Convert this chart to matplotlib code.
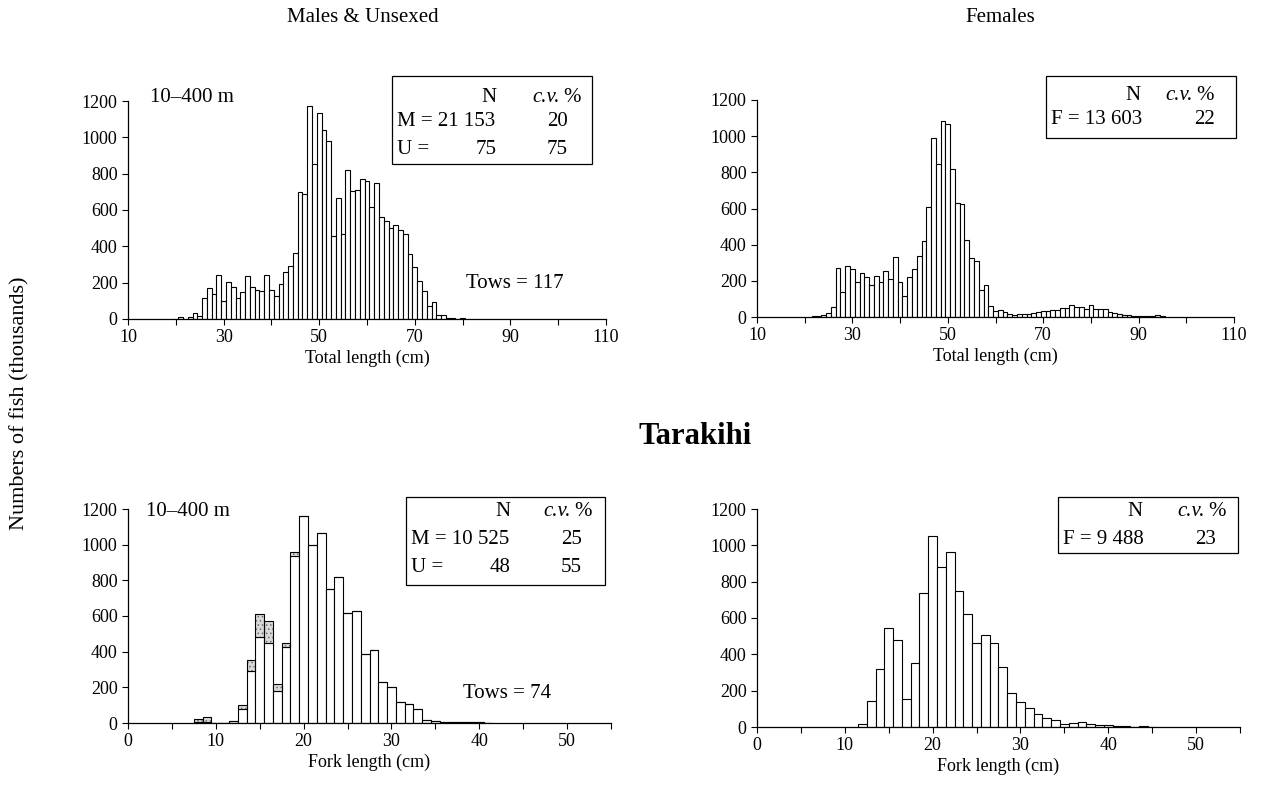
import matplotlib

matplotlib.use("Agg")
import matplotlib.pyplot as plt
import numpy as np
from matplotlib.patches import Rectangle

W, H = 1264, 800

# top species, total length (cm), 1 cm bins
tl_start = 20
males_tl = [0, 13, 0, 9, 33, 18, 114, 169, 139, 244, 99, 205, 174, 115, 150, 236, 176, 160, 156, 242,
            160, 128, 194, 257, 293, 361, 698, 687, 1173, 852, 1136, 1041, 979, 457, 665, 470, 822, 707,
            710, 768, 760, 616, 750, 561, 537, 502, 517, 491, 469, 359, 286, 209, 154, 70, 92, 24, 20, 7,
            5, 0, 7]
tr_start = 22
females_tl = [3, 6, 13, 20, 55, 269, 140, 280, 264, 192, 243, 221, 177, 229, 195, 256, 210, 330, 195,
              114, 219, 264, 339, 422, 608, 988, 848, 1082, 1067, 820, 628, 623, 426, 324, 310, 147, 177,
              62, 35, 37, 26, 15, 9, 17, 15, 15, 22, 28, 33, 33, 40, 40, 48, 48, 68, 55, 55, 45, 68, 42,
              42, 44, 29, 20, 18, 13, 9, 7, 6, 5, 5, 5, 12, 4]

# Tarakihi, fork length (cm)
bl_start = 8
males_fl = [5, 8, 2, 0, 9, 80, 290, 482, 449, 178, 424, 935, 1159, 996, 1065, 753, 817, 617, 630, 387,
            407, 228, 200, 118, 108, 79, 19, 9, 7, 7, 6, 3, 5, 2]
unsexed_fl = [17, 26, 0, 0, 0, 22, 61, 129, 125, 42, 25, 22, 0, 0, 0, 0, 0, 0, 0, 0,
              0, 0, 0, 0, 0, 0, 0, 0, 0, 0, 0, 0, 0, 0]
br_start = 12
females_fl = [15, 141, 321, 546, 481, 156, 355, 735, 1053, 878, 961, 746, 623, 461, 509, 461, 329, 189,
              138, 107, 72, 48, 40, 18, 22, 26, 15, 9, 9, 6, 4, 2, 6, 2]

y_ticks = [0, 200, 400, 600, 800, 1000, 1200]
tl_xticks = [10, 30, 50, 70, 90, 110]
fl_xticks = [0, 10, 20, 30, 40, 50]

plt.rcParams["font.family"] = ["Liberation Serif", "DejaVu Serif"]
plt.rcParams["font.size"] = 13
plt.rcParams["hatch.linewidth"] = 0.6


def fx(x):
    return x / W


def fy(y):
    return 1 - y / H


def add_panel(fig, left, top, right, bottom):
    ax = fig.add_axes([fx(left), fy(bottom), (right - left) / W, (bottom - top) / H])
    for side in ["top", "right"]:
        ax.spines[side].set_visible(False)
    ax.spines["left"].set_linewidth(0.9)
    ax.spines["bottom"].set_linewidth(0.9)
    ax.set_ylim(0, 1200)
    ax.set_yticks(y_ticks)
    ax.tick_params(direction="out", length=4, width=0.8, labelsize=13)
    return ax


def set_xticks(ax, lo, hi, step, labelled):
    ticks = np.arange(lo, hi + step, step)
    ax.set_xlim(lo, hi)
    ax.set_xticks(ticks)
    ax.set_xticklabels([str(t) if t in labelled else "" for t in ticks])


def info_box(fig, left, top, right, bottom, n_right, cv_right, cv_head, rows, header_y, row_ys):
    fig.patches.append(Rectangle((fx(left), fy(bottom)), (right - left) / W, (bottom - top) / H,
                                 transform=fig.transFigure, fill=False, lw=0.9, ec="black"))
    fig.text(fx(n_right), fy(header_y), "N", ha="right", va="center", fontsize=15)
    fig.text(fx(cv_head), fy(header_y), "c.v.", ha="right", va="center", fontsize=15, style="italic")
    fig.text(fx(cv_head + 3), fy(header_y), "%", ha="left", va="center", fontsize=15)
    for (label, n, cv), y in zip(rows, row_ys):
        fig.text(fx(left + 5), fy(y), label, ha="left", va="center", fontsize=15)
        if n:
            fig.text(fx(n_right), fy(y), n, ha="right", va="center", fontsize=15)
        fig.text(fx(cv_right), fy(y), cv, ha="right", va="center", fontsize=15)


fig = plt.figure(figsize=(W / 100, H / 100), dpi=100)
bar_style = dict(width=1.0, facecolor="white", edgecolor="black", linewidth=0.8)

# top left: males & unsexed, total length
ax = add_panel(fig, 128, 101, 606, 319)
x = np.arange(tl_start, tl_start + len(males_tl))
ax.bar(x, males_tl, **bar_style)
set_xticks(ax, 10, 110, 10, tl_xticks)
ax.set_xlabel("Total length (cm)", fontsize=13, labelpad=2)

# top right: females, total length
ax = add_panel(fig, 757, 100, 1234, 317)
x = np.arange(tr_start, tr_start + len(females_tl))
ax.bar(x, females_tl, **bar_style)
set_xticks(ax, 10, 110, 10, tl_xticks)
ax.set_xlabel("Total length (cm)", fontsize=13, labelpad=2)

# bottom left: tarakihi males & unsexed, fork length
ax = add_panel(fig, 128, 509, 611, 723)
x = np.arange(bl_start, bl_start + len(males_fl))
ax.bar(x, males_fl, **bar_style)
# unsexed: grey stipple, then black outline on top
ax.bar(x, unsexed_fl, bottom=males_fl, width=1.0, facecolor="#d8d8d8", edgecolor="#707070",
       linewidth=0, hatch="....")
ax.bar(x, unsexed_fl, bottom=males_fl, width=1.0, fill=False, edgecolor="black", linewidth=0.8)
set_xticks(ax, 0, 55, 5, fl_xticks)
ax.set_xlabel("Fork length (cm)", fontsize=13, labelpad=2)

# bottom right: tarakihi females, fork length
ax = add_panel(fig, 757, 509, 1240, 727)
x = np.arange(br_start, br_start + len(females_fl))
ax.bar(x, females_fl, **bar_style)
set_xticks(ax, 0, 55, 5, fl_xticks)
ax.set_xlabel("Fork length (cm)", fontsize=13, labelpad=2)

# N / c.v. boxes
info_box(fig, 392, 76, 592, 164, 497, 568, 560,
         [("M = 21 153", "", "20"), ("U =", "75", "75")], 97, [121, 149])
info_box(fig, 1046, 76, 1236, 138, 1140, 1215, 1193,
         [("F = 13 603", "", "22")], 96, [119])
info_box(fig, 406, 497, 605, 585, 510, 582, 571,
         [("M = 10 525", "", "25"), ("U =", "48", "55")], 512, [539, 567])
info_box(fig, 1058, 497, 1238, 553, 1143, 1216, 1205,
         [("F = 9 488", "", "23")], 512, [539])

fig.text(fx(150), fy(97), "10–400 m", ha="left", va="center", fontsize=15)
fig.text(fx(146), fy(512), "10–400 m", ha="left", va="center", fontsize=15)
fig.text(fx(466), fy(283), "Tows = 117", ha="left", va="center", fontsize=15)
fig.text(fx(463), fy(693), "Tows = 74", ha="left", va="center", fontsize=15)

fig.text(fx(363), fy(18), "Males & Unsexed", ha="center", va="center", fontsize=15)
fig.text(fx(1000), fy(18), "Females", ha="center", va="center", fontsize=15)
fig.text(fx(695), fy(437), "Tarakihi", ha="center", va="center", fontsize=22, fontweight="bold")
fig.text(fx(20), fy(403), "Numbers of fish (thousands)", ha="center", va="center",
         rotation=90, fontsize=16)

fig.savefig("out.png", dpi=100)
